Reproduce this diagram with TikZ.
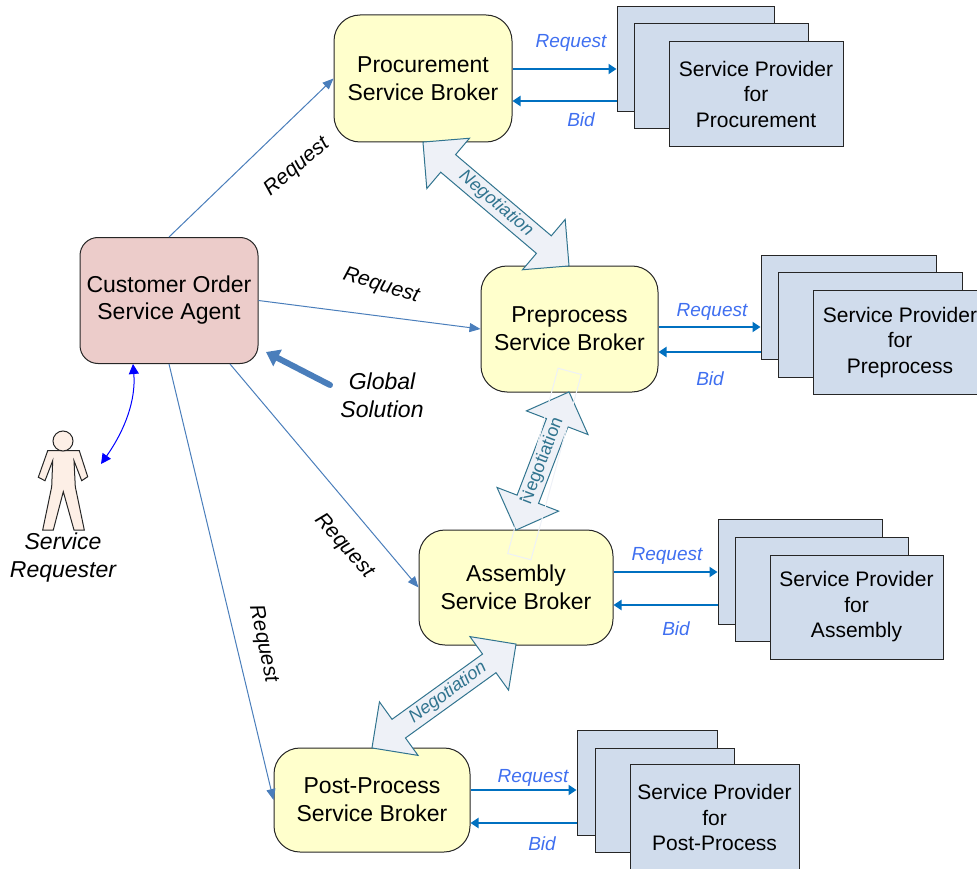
\documentclass[tikz,border=0pt]{standalone}
\usepackage{fontspec}
\setmainfont{Liberation Sans}
\usepackage{tikz}
\usetikzlibrary{positioning, arrows.meta, shapes.arrows}

\definecolor{linkblue}{HTML}{4A7EBB}
\definecolor{bidblue}{HTML}{0070C0}
\definecolor{labelblue}{HTML}{3F6FF0}
\definecolor{negoteal}{HTML}{31748F}
\definecolor{negofill}{HTML}{EEF1F7}
\definecolor{brokerfill}{HTML}{FFFFCC}
\definecolor{agentfill}{HTML}{ECCCCA}
\definecolor{providerfill}{HTML}{D0DCEC}
\definecolor{personfill}{HTML}{FDEFE6}

\tikzset{
  broker/.style={draw=black!85, line width=1pt, fill=brokerfill, rounded corners=26pt, inner sep=0pt, align=center,
    font=\fontsize{23}{28}\selectfont},
  agent/.style={draw=black!85, line width=1pt, fill=agentfill, rounded corners=18pt, inner sep=0pt, align=center,
    font=\fontsize{23}{27}\selectfont},
  provider/.style={draw=black!85, line width=1pt, fill=providerfill, inner sep=0pt, align=center,
    font=\fontsize{21}{25.5}\selectfont},
  link/.style={draw=linkblue, line width=1pt, -{Triangle[length=11pt,width=9pt]}},
  bidlink/.style={draw=bidblue, line width=2.2pt, -{Triangle[length=8pt,width=10pt]}},
  linklabel/.style={font=\fontsize{21}{24}\selectfont\itshape},
  bluelabel/.style={text=labelblue, font=\fontsize{19}{24}\selectfont\itshape},
  nego/.style={double arrow, draw=negoteal, fill=negofill, line width=1pt, text=negoteal,
    double arrow tip angle=90, double arrow head extend=21.5pt, inner sep=2.5pt,
    text height=13pt, text depth=4pt, font=\fontsize{18}{18}\selectfont, anchor=center}
}

\begin{document}
\begin{tikzpicture}[x=1pt, y=-1pt]
\useasboundingbox (0,0) rectangle (977,869);

% agent and brokers
\node[agent, minimum width=178pt, minimum height=126pt] (customer) at (169,300.5) {Customer Order\\Service Agent};
\node[broker, minimum width=178pt, minimum height=127pt] (procurement) at (423,78.5) {Procurement\\Service Broker};
\node[broker, minimum width=177pt, minimum height=126pt] (preprocess) at (569.5,329) {Preprocess\\Service Broker};
\node[broker, minimum width=194pt, minimum height=115pt] (assembly) at (516,587.5) {Assembly\\Service Broker};
\node[broker, minimum width=196pt, minimum height=104pt] (postprocess) at (372,800) {Post-Process\\Service Broker};

% provider stacks
\node[provider, minimum width=157pt, minimum height=105pt] (procBack) at (695.5,59.5) {};
\node[provider, minimum width=174pt, minimum height=105pt] (procMid) at (721,76.5) {};
\node[provider, minimum width=174pt, minimum height=105pt] (procFront) at (756,94) {Service Provider\\for\\Procurement};

\node[provider, minimum width=175pt, minimum height=104pt] (prepBack) at (848.5,307) {};
\node[provider, minimum width=184pt, minimum height=105pt] (prepMid) at (870,324.5) {};
\node[provider, minimum width=174pt, minimum height=104pt] (prepFront) at (900,342.5) {Service Provider\\for\\Preprocess};

\node[provider, minimum width=164pt, minimum height=105pt] (asmBack) at (800,571.5) {};
\node[provider, minimum width=173pt, minimum height=104pt] (asmMid) at (821.5,589) {};
\node[provider, minimum width=173pt, minimum height=104pt] (asmFront) at (856.5,607) {Service Provider\\for\\Assembly};

\node[provider, minimum width=140pt, minimum height=105pt] (postBack) at (647,782.5) {};
\node[provider, minimum width=139pt, minimum height=104pt] (postMid) at (664.5,800) {};
\node[provider, minimum width=169pt, minimum height=106pt] (postFront) at (714.5,817.5) {Service Provider\\for\\Post-Process};

% agent to brokers
\draw[link] (customer.north) -- (procurement.west);
\draw[link] (customer.east) -- (preprocess.west);
\draw[link] ([xshift=61pt]customer.south) -- (assembly.west);
\draw[link] (customer.south) -- (postprocess.west);

\node[linklabel, rotate=40] (reqProc) at (297,167) {Request};
\node[linklabel, rotate=-17] (reqPrep) at (381,286) {Request};
\node[linklabel, rotate=-48] (reqAsm) at (344,546) {Request};
\node[linklabel, rotate=-78] (reqPost) at (263,644) {Request};

% request and bid
\draw[bidlink] (procurement.east |- 0,69) -- (procBack.west |- 0,69);
\draw[bidlink] (procBack.west |- 0,101) -- (procurement.east |- 0,101);
\node[bluelabel] (reqA) at (571,43) {Request};
\node[bluelabel] (bidA) at (581,120) {Bid};

\draw[bidlink] (preprocess.east |- 0,327) -- (prepBack.west |- 0,327);
\draw[bidlink] (prepBack.west |- 0,352) -- (preprocess.east |- 0,352);
\node[bluelabel] (reqB) at (712,312) {Request};
\node[bluelabel] (bidB) at (710,379) {Bid};

\draw[bidlink] (assembly.east |- 0,572) -- (asmBack.west |- 0,572);
\draw[bidlink] (asmBack.west |- 0,605) -- (assembly.east |- 0,605);
\node[bluelabel] (reqC) at (667,556) {Request};
\node[bluelabel] (bidC) at (676,629) {Bid};

\draw[bidlink] (postprocess.east |- 0,790) -- (postBack.west |- 0,790);
\draw[bidlink] (postBack.west |- 0,823) -- (postprocess.east |- 0,823);
\node[bluelabel] (reqD) at (533,778) {Request};
\node[bluelabel] (bidD) at (542,844) {Bid};

% negotiation
\node[nego, rotate=-40.3, minimum height=191.5pt, minimum width=65pt, font=\fontsize{18}{18}\selectfont\itshape] (negoA) at (496,204) {Negotiation};
\node[nego, rotate=69, minimum height=148pt, minimum width=65pt] (negoB) at (542.5,461) {Negotiation};
\node[nego, rotate=35.8, minimum height=177.6pt, minimum width=66pt, font=\fontsize{18}{18}\selectfont\itshape] (negoC) at (444,696) {\hspace*{10pt}Negotiation};
\node[draw=negofill, line width=1pt, rotate=74.8, minimum width=192pt, minimum height=24pt] (negoBox) at (544.5,464) {};

% global solution
\coordinate (globalEnd) at (330,385);
\coordinate (globalTip) at (266,352);
\draw[draw=linkblue, line width=6pt, line cap=round, -{Triangle[length=13pt,width=18pt]}] (globalEnd) -- (globalTip);
\node[font=\fontsize{23}{28}\selectfont\itshape, align=center] (globalLabel) at (382,395) {Global\\Solution};

% service requester
\coordinate (requesterHand) at (101,464);
\draw[draw=black!85, fill=personfill, line width=1pt] (47.7,450.7) -- (79.3,450.7) -- (87.7,476.7) -- (81.7,480.7) -- (74,460.7) -- (75.3,486.7) -- (84.3,530) -- (74,530) -- (63.3,491.7) -- (53.3,530) -- (42.7,530) -- (51.7,486.7) -- (52.7,460.7) -- (45,480.7) -- (38.3,477.3) -- cycle;
\draw[draw=black!85, fill=personfill, line width=1pt] (63,441) circle (10);
\node[font=\fontsize{23}{28}\selectfont\itshape, align=center] (requester) at (63,558) {Service\\Requester};
\draw[draw=blue, line width=1pt, {Triangle[length=10pt,width=10pt]}-{Triangle[length=10pt,width=10pt]}] ([xshift=-36pt]customer.south) .. controls (136,400) and (125,430) .. (requesterHand);

\end{tikzpicture}
\end{document}
